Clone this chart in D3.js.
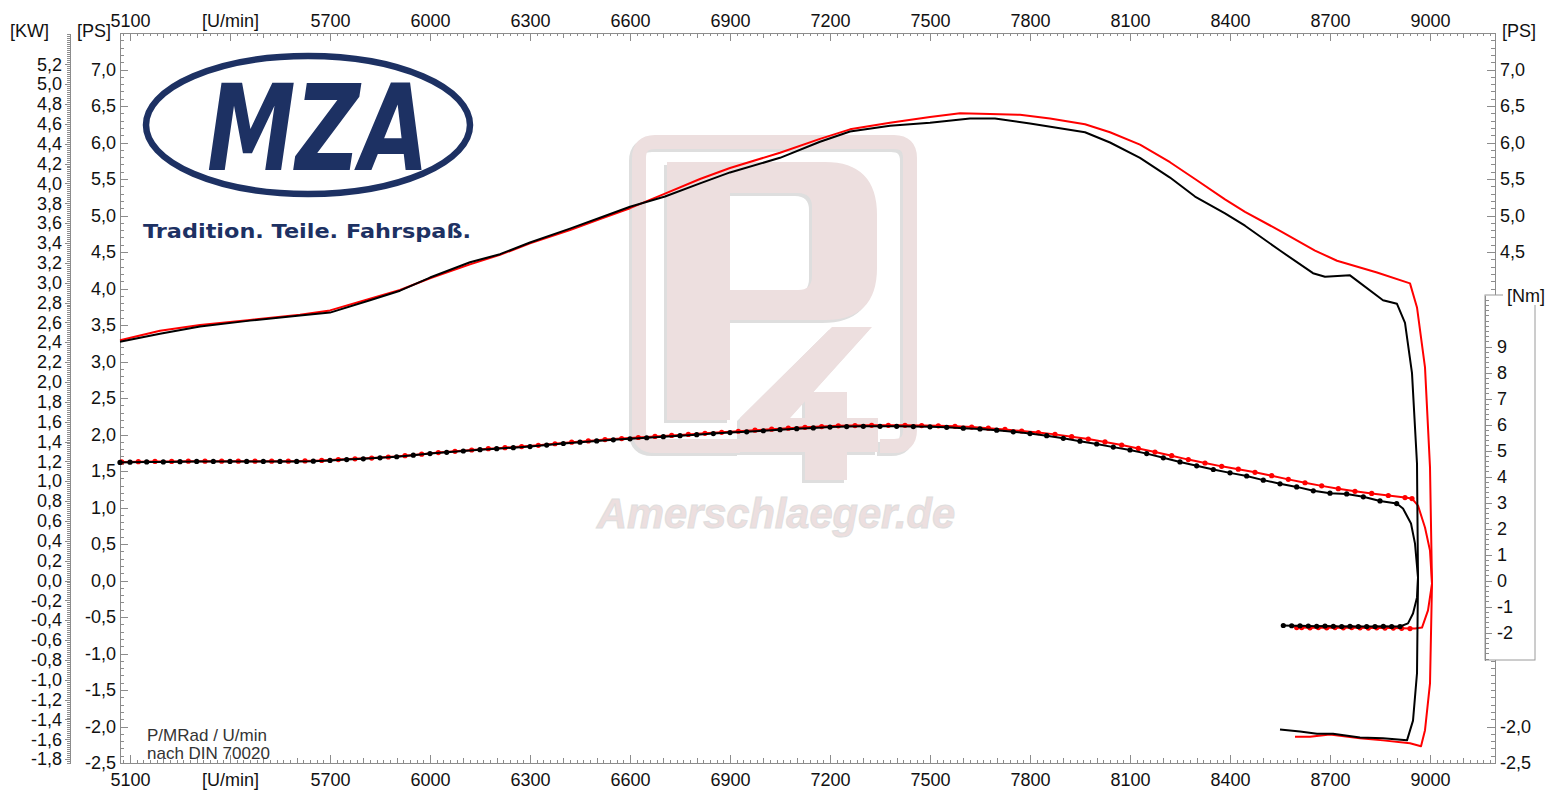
<!DOCTYPE html>
<html>
<head>
<meta charset="utf-8">
<script src="https://cdn.jsdelivr.net/npm/d3@7"></script>
<style>
	body { margin: 0; background: #fff; }
	svg { display: block; font-family: "Liberation Sans", Arial, sans-serif; }
	.axis path, .axis line { stroke: #8c8c8c; shape-rendering: crispEdges; }
	.axis text { fill: #111; font-size: 18px; font-family: "Liberation Sans", Arial, sans-serif; }
</style>
</head>
<body>
<svg id="chart" width="1551" height="798"></svg>
<script>
// rpm / PS readings, black run
const powerBlack = [
	[5070, 3.27], [5190, 3.38], [5310, 3.48], [5460, 3.56], [5610, 3.63], [5700, 3.67],
	[5820, 3.84], [5910, 3.97], [6000, 4.15], [6120, 4.36], [6210, 4.47], [6300, 4.63],
	[6420, 4.82], [6510, 4.97], [6600, 5.12], [6705, 5.26], [6810, 5.44], [6900, 5.59],
	[7050, 5.79], [7170, 6.01], [7260, 6.15], [7380, 6.23], [7500, 6.27], [7620, 6.33],
	[7695, 6.33], [7800, 6.26], [7965, 6.14], [8040, 6.0], [8130, 5.79], [8220, 5.52],
	[8295, 5.26], [8385, 5.03], [8445, 4.86], [8550, 4.52], [8649, 4.21], [8685, 4.16],
	[8760, 4.18], [8859, 3.84], [8901, 3.79], [8925, 3.53], [8946, 2.84], [8961, 1.6],
	[8964, 0.03], [8961, -1.27], [8949, -1.92], [8931, -2.19], [8859, -2.16], [8790, -2.15],
	[8709, -2.1], [8661, -2.1], [8610, -2.07], [8550, -2.04]
];

// rpm / PS readings, red run
const powerRed = [
	[5070, 3.29], [5190, 3.42], [5310, 3.5], [5460, 3.57], [5610, 3.64], [5700, 3.7],
	[5820, 3.86], [5910, 3.98], [6000, 4.14], [6120, 4.33], [6210, 4.46], [6300, 4.62],
	[6420, 4.8], [6510, 4.95], [6600, 5.1], [6705, 5.3], [6810, 5.5], [6900, 5.65],
	[7050, 5.86], [7170, 6.05], [7260, 6.18], [7380, 6.27], [7500, 6.35], [7590, 6.4],
	[7680, 6.39], [7770, 6.38], [7860, 6.33], [7965, 6.25], [8040, 6.14], [8130, 5.97],
	[8220, 5.73], [8295, 5.5], [8385, 5.22], [8445, 5.05], [8550, 4.79], [8655, 4.52],
	[8721, 4.38], [8841, 4.22], [8940, 4.07], [8961, 3.74], [8985, 2.92], [9000, 1.55],
	[9006, -0.04], [9000, -1.41], [8985, -2.05], [8973, -2.27], [8940, -2.23], [8859, -2.19],
	[8790, -2.16], [8700, -2.11], [8640, -2.14], [8595, -2.14]
];

// rpm / Nm readings, black torque (measured part, drop, coast down)
const torqueBlackRun = [
	[5070, 4.54], [5100, 4.55], [5150, 4.56], [5200, 4.56], [5250, 4.57], [5300, 4.58],
	[5350, 4.58], [5400, 4.58], [5450, 4.58], [5500, 4.58], [5550, 4.58], [5600, 4.58],
	[5650, 4.59], [5700, 4.62], [5750, 4.65], [5800, 4.68], [5850, 4.72], [5900, 4.76],
	[5950, 4.82], [6000, 4.88], [6050, 4.93], [6100, 4.98], [6150, 5.03], [6200, 5.07],
	[6250, 5.11], [6300, 5.15], [6350, 5.21], [6400, 5.27], [6450, 5.32], [6500, 5.37],
	[6550, 5.41], [6600, 5.45], [6650, 5.49], [6700, 5.53], [6750, 5.57], [6800, 5.61],
	[6850, 5.65], [6900, 5.69], [6950, 5.72], [7000, 5.76], [7050, 5.8], [7100, 5.84],
	[7150, 5.87], [7200, 5.9], [7250, 5.92], [7300, 5.93], [7350, 5.93], [7400, 5.93],
	[7450, 5.92], [7500, 5.91], [7550, 5.89], [7600, 5.86], [7650, 5.83], [7700, 5.78],
	[7750, 5.72], [7800, 5.65], [7850, 5.57], [7900, 5.47], [7950, 5.36], [8000, 5.25],
	[8050, 5.13], [8100, 5.02], [8150, 4.88], [8200, 4.72], [8250, 4.56], [8300, 4.41],
	[8350, 4.27], [8400, 4.14], [8450, 4.02], [8500, 3.86], [8550, 3.72], [8600, 3.6],
	[8650, 3.45], [8700, 3.36], [8750, 3.33], [8800, 3.22], [8850, 3.06], [8900, 2.96]
];
const torqueBlackDrop = [
	[8919, 2.77], [8943, 2.19], [8955, 1.42], [8964, 0.12], [8961, -0.65], [8949, -1.27], [8934, -1.65]
];
const torqueBlackCoast = [
	[8910, -1.77], [8885, -1.77], [8860, -1.76], [8835, -1.77], [8810, -1.77], [8785, -1.77],
	[8760, -1.76], [8735, -1.77], [8710, -1.76], [8685, -1.75], [8660, -1.76], [8635, -1.75],
	[8610, -1.74], [8585, -1.74], [8560, -1.73]
];

// rpm / Nm readings, red torque
const torqueRedRun = [
	[5075, 4.56], [5125, 4.57], [5175, 4.58], [5225, 4.58], [5275, 4.59], [5325, 4.59],
	[5375, 4.59], [5425, 4.59], [5475, 4.59], [5525, 4.59], [5575, 4.59], [5625, 4.6],
	[5675, 4.62], [5725, 4.65], [5775, 4.68], [5825, 4.71], [5875, 4.75], [5925, 4.8],
	[5975, 4.86], [6025, 4.92], [6075, 4.97], [6125, 5.02], [6175, 5.07], [6225, 5.11],
	[6275, 5.15], [6325, 5.2], [6375, 5.26], [6425, 5.32], [6475, 5.37], [6525, 5.42],
	[6575, 5.46], [6625, 5.5], [6675, 5.54], [6725, 5.58], [6775, 5.62], [6825, 5.66],
	[6875, 5.7], [6925, 5.74], [6975, 5.78], [7025, 5.82], [7075, 5.86], [7125, 5.89],
	[7175, 5.92], [7225, 5.95], [7275, 5.96], [7325, 5.97], [7375, 5.97], [7425, 5.97],
	[7475, 5.96], [7525, 5.95], [7575, 5.93], [7625, 5.9], [7675, 5.86], [7725, 5.81],
	[7775, 5.75], [7825, 5.69], [7875, 5.62], [7925, 5.53], [7975, 5.44], [8025, 5.33],
	[8075, 5.21], [8125, 5.08], [8175, 4.94], [8225, 4.8], [8275, 4.65], [8325, 4.52],
	[8375, 4.39], [8425, 4.28], [8475, 4.16], [8525, 4.03], [8575, 3.89], [8625, 3.76],
	[8675, 3.64], [8725, 3.53], [8775, 3.43], [8825, 3.35], [8875, 3.27], [8925, 3.19],
	[8946, 3.15]
];
const torqueRedDrop = [
	[8964, 2.88], [8985, 2.04], [9000, 1.15], [9006, -0.12], [8994, -1.15], [8976, -1.81], [8955, -1.85]
];
const torqueRedCoast = [
	[8940, -1.85], [8915, -1.84], [8890, -1.83], [8865, -1.83], [8840, -1.82], [8815, -1.83],
	[8790, -1.82], [8765, -1.81], [8740, -1.82], [8715, -1.81], [8690, -1.82], [8665, -1.81],
	[8640, -1.82], [8615, -1.81], [8600, -1.81]
];

// axis ticks
const rpmTicks = [5100, 5400, 5700, 6000, 6300, 6600, 6900, 7200, 7500, 7800, 8100, 8400, 8700, 9000];
const rpmUnitTick = 5400;
const psTicks = [-2.5, -2, -1.5, -1, -0.5, 0, 0.5, 1, 1.5, 2, 2.5, 3, 3.5, 4, 4.5, 5, 5.5, 6, 6.5, 7];
const psRightTicks = [7, 6.5, 6, 5.5, 5, 4.5, -2, -2.5];
const kwTicks = d3.range(-18, 53, 2).map((v) => v / 10);
const nmTicks = [-2, -1, 0, 1, 2, 3, 4, 5, 6, 7, 8, 9];

const svg = d3.select("#chart");
const fmt1 = (d) => d.toFixed(1).replace(".", ",");

// Scales
const plotL = 120, plotR = 1495, plotT = 33, plotB = 763;
const x = d3.scaleLinear().domain([5070, 9195]).range([plotL, plotR]);
const yPS = d3.scaleLinear().domain([-2.5, 7.5]).range([plotB, plotT]);
const yKW = d3.scaleLinear().domain([-2.5 / 1.36, 7.5 / 1.36]).range([plotB, plotT]);
const nmBoxTop = 295, nmBoxBottom = 660, nmZero = yPS(0), nmPx = 26;
const yNm = d3.scaleLinear()
	.domain([(nmZero - nmBoxBottom) / nmPx, (nmZero - nmBoxTop) / nmPx])
	.range([nmBoxBottom, nmBoxTop]);

// Watermark (P4 logo + text)
const wm = svg.append("g").attr("class", "watermark");
const pink = "#eddfdf", shade = "#dedede";
[[shade, 3], [pink, 0]].forEach(([col, off]) => {
	const g = wm.append("g").attr("transform", `translate(${-off},${off})`);
	g.append("path")
		.attr("d", "M740,446 H655 Q639,446 639,430 V158 Q639,142 655,142 H894 Q910,142 910,158 V430 Q910,446 894,446 H880")
		.attr("fill", "none").attr("stroke", col).attr("stroke-width", 14);
	g.append("path")
		.attr("fill-rule", "evenodd").attr("fill", col)
		.attr("d", "M667,162 H825 Q877,162 877,215 V268 Q877,320 825,320 H730 V420 H667 Z M730,193 H798 Q812,193 812,207 V276 Q812,290 798,290 H730 Z");
	g.append("path").attr("fill", col)
		.attr("d", "M832,327 H872 L790,418 H805 V392 H847 V418 H878 V452 H847 V480 H805 V452 H740 V418 Z");
});
wm.append("text").attr("x", 597).attr("y", 528)
	.attr("font-size", 42).attr("font-weight", "bold").attr("font-style", "italic")
	.attr("textLength", 358).attr("lengthAdjust", "spacingAndGlyphs")
	.attr("fill", pink).attr("stroke", shade).attr("stroke-width", 1)
	.text("Amerschlaeger.de");

// MZA logo
const logo = svg.append("g").attr("class", "logo");
const navy = "#1d3163";
logo.append("ellipse").attr("cx", 308).attr("cy", 125).attr("rx", 162).attr("ry", 69)
	.attr("fill", "none").attr("stroke", navy).attr("stroke-width", 6.5);
logo.append("text").attr("x", 207).attr("y", 170)
	.attr("font-size", 120).attr("font-weight", 900).attr("font-style", "italic")
	.attr("font-family", "'DejaVu Sans', 'Liberation Sans', sans-serif")
	.attr("textLength", 222).attr("lengthAdjust", "spacingAndGlyphs")
	.attr("fill", navy).text("MZA");
logo.append("text").attr("x", 143).attr("y", 238)
	.attr("font-size", 20).attr("font-weight", 900)
	.attr("font-family", "'DejaVu Sans', 'Liberation Sans', sans-serif")
	.attr("textLength", 328).attr("lengthAdjust", "spacingAndGlyphs")
	.attr("fill", navy).text("Tradition. Teile. Fahrspaß.");

// Axes
function addAxis(axis, tx, ty) {
	return svg.append("g").attr("class", "axis").attr("transform", `translate(${tx},${ty})`).call(axis);
}

// rpm axes, minor and major ticks
const rpmMinor = d3.range(5080, 9195, 20);
const rpmMid = d3.range(5100, 9195, 100);
[[d3.axisTop, plotT], [d3.axisBottom, plotB]].forEach(([axisFn, ty]) => {
	addAxis(axisFn(x).tickValues(rpmMinor).tickSize(-3).tickSizeOuter(0).tickFormat(""), 0, ty);
	addAxis(axisFn(x).tickValues(rpmMid).tickSize(-5).tickSizeOuter(0).tickFormat(""), 0, ty);
});
addAxis(d3.axisTop(x).tickValues(rpmTicks).tickSize(-8).tickSizeOuter(0).tickPadding(6)
	.tickFormat((d) => (d === rpmUnitTick ? "[U/min]" : d)), 0, plotT);
addAxis(d3.axisBottom(x).tickValues(rpmTicks).tickSize(-8).tickSizeOuter(0).tickPadding(10)
	.tickFormat((d) => (d === rpmUnitTick ? "[U/min]" : d)), 0, plotB);

// PS left
const psMinor = d3.range(-25, 76).map((v) => v / 10);
addAxis(d3.axisLeft(yPS).tickValues(psMinor).tickSize(-4).tickSizeOuter(0).tickFormat(""), plotL, 0);
addAxis(d3.axisLeft(yPS).tickValues(psTicks).tickSize(-8).tickSizeOuter(0).tickPadding(4).tickFormat(fmt1), plotL, 0);

// PS right
addAxis(d3.axisRight(yPS).tickValues(psMinor).tickSize(-4).tickSizeOuter(0).tickFormat(""), plotR, 0);
addAxis(d3.axisRight(yPS).tickValues(psRightTicks).tickSize(-8).tickSizeOuter(0).tickPadding(5).tickFormat(fmt1), plotR, 0);

// KW
const kwMinor = d3.range(-92, 276).map((v) => v / 50);
addAxis(d3.axisLeft(yKW).tickValues(kwMinor).tickSize(3).tickSizeOuter(0).tickFormat(""), 70, 0)
	.selectAll("line").attr("stroke", "#b5b5b5");
addAxis(d3.axisLeft(yKW).tickValues(kwTicks).tickSize(5).tickSizeOuter(0).tickPadding(3).tickFormat(fmt1), 70, 0);

// Header unit labels
const unitText = (tx, ty, s) =>
	svg.append("text").attr("x", tx).attr("y", ty).attr("font-size", 18).attr("fill", "#111").text(s);
unitText(10, 37, "[KW]");
unitText(77, 37, "[PS]");
unitText(1502, 37, "[PS]");

// Nm box
svg.append("rect").attr("x", 1485).attr("y", nmBoxTop).attr("width", 50).attr("height", nmBoxBottom - nmBoxTop)
	.attr("fill", "#fff").attr("stroke", "#9a9a9a");
addAxis(d3.axisRight(yNm).tickValues(d3.range(-15, 55).map((v) => v / 5)).tickSize(4).tickSizeOuter(0).tickFormat(""), 1485, 0)
	.selectAll("line").attr("stroke", "#aaa");
addAxis(d3.axisRight(yNm).tickValues(nmTicks).tickSize(7).tickSizeOuter(0).tickPadding(5).tickFormat((d) => d), 1485, 0);
svg.append("rect").attr("x", 1503).attr("y", 283).attr("width", 48).attr("height", 22).attr("fill", "#fff");
unitText(1507, 302, "[Nm]");

// Curves
const powerLine = d3.line().x((d) => x(d[0])).y((d) => yPS(d[1]));
const torqueLine = d3.line().x((d) => x(d[0])).y((d) => yNm(d[1]));
const curves = svg.append("g").attr("class", "curves");

function drawTorque(run, drop, coast, color) {
	curves.append("path").datum(run.concat(drop, coast)).attr("d", torqueLine)
		.attr("fill", "none").attr("stroke", color).attr("stroke-width", 2).attr("stroke-linejoin", "round");
	curves.append("g").selectAll("circle").data(run.concat(coast)).join("circle")
		.attr("cx", (d) => x(d[0])).attr("cy", (d) => yNm(d[1])).attr("r", 2.6).attr("fill", color);
}

curves.append("path").datum(powerRed).attr("d", powerLine)
	.attr("fill", "none").attr("stroke", "#ff0000").attr("stroke-width", 2).attr("stroke-linejoin", "round");
drawTorque(torqueRedRun, torqueRedDrop, torqueRedCoast, "#ff0000");
curves.append("path").datum(powerBlack).attr("d", powerLine)
	.attr("fill", "none").attr("stroke", "#000").attr("stroke-width", 2).attr("stroke-linejoin", "round");
drawTorque(torqueBlackRun, torqueBlackDrop, torqueBlackCoast, "#000");

// Footer note
svg.append("text").attr("x", 147).attr("y", 741).attr("font-size", 17).attr("fill", "#333").text("P/MRad / U/min");
svg.append("text").attr("x", 147).attr("y", 759).attr("font-size", 17).attr("fill", "#333").text("nach DIN 70020");
</script>
</body>
</html>
